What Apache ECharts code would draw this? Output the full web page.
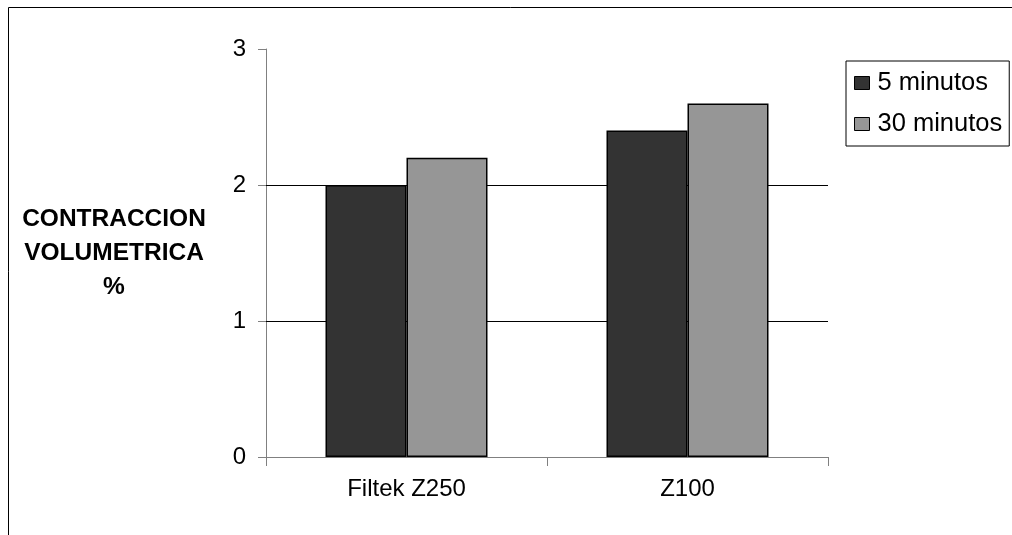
<!DOCTYPE html>
<html>
<head>
<meta charset="utf-8">
<script src="https://cdn.jsdelivr.net/npm/echarts@6/dist/echarts.min.js"></script>
<style>
html,body{margin:0;padding:0;background:#fff;}
#chart{width:1012px;height:535px;}
</style>
</head>
<body>
<div id="chart"></div>
<script>
var categories = ['Filtek Z250', 'Z100'];
var seriesNames = ['5 minutos', '30 minutos'];
var values5 = [2.0, 2.4];
var values30 = [2.2, 2.6];
var gridValues = [1, 2];
var yTitle = 'CONTRACCION\nVOLUMETRICA\n%';

var font = '"Liberation Sans", Arial, sans-serif';
var chart = echarts.init(document.getElementById('chart'), null, {renderer: 'canvas'});
chart.setOption({
  animation: false,
  backgroundColor: '#fff',
  graphic: [{
    type: 'rect', silent: true, z: 0,
    shape: {x: 8.5, y: 7.5, width: 1200, height: 700},
    style: {fill: 'none', stroke: '#000', lineWidth: 1}
  }],
  grid: {left: 266, right: 184, top: 49, bottom: 78, containLabel: false},
  legend: {
    orient: 'vertical', left: 846, top: 61,
    padding: [9, 7, 9, 8], itemGap: 15,
    borderColor: '#000', borderWidth: 1,
    itemWidth: 15, itemHeight: 13,
    icon: 'rect',
    itemStyle: {borderColor: '#000', borderWidth: 1},
    textStyle: {fontFamily: font, fontSize: 25.5, color: '#000', padding: [0, 0, 0, 3]},
    data: seriesNames
  },
  xAxis: {
    type: 'category', data: categories,
    axisLine: {show: true, lineStyle: {color: '#808080', width: 1}},
    axisTick: {show: true, length: 9, inside: false, lineStyle: {color: '#808080'}},
    axisLabel: {fontFamily: font, fontSize: 24, color: '#000', margin: 20},
    splitLine: {show: false}
  },
  yAxis: {
    type: 'value', min: 0, max: 3, interval: 1,
    name: yTitle, nameLocation: 'middle', nameRotate: 0, nameGap: 152,
    nameTextStyle: {fontFamily: font, fontSize: 24.5, fontWeight: 'bold', color: '#000', align: 'center', verticalAlign: 'middle', lineHeight: 34},
    axisLine: {show: true, lineStyle: {color: '#808080', width: 1}},
    axisTick: {show: true, length: 8, lineStyle: {color: '#808080'}},
    axisLabel: {fontFamily: font, fontSize: 24, color: '#000', margin: 20},
    splitLine: {show: false}
  },
  series: [{
    name: seriesNames[0], type: 'bar', data: values5,
    barWidth: 81, barGap: '0%',
    itemStyle: {color: '#333333', borderColor: '#000', borderWidth: 1.5},
    markLine: {
      silent: true, symbol: 'none', label: {show: false},
      lineStyle: {color: '#000', width: 1, type: 'solid'},
      data: gridValues.map(function (v) { return {yAxis: v}; }),
      z: 1
    },
    z: 3
  }, {
    name: seriesNames[1], type: 'bar', data: values30,
    barWidth: 81, barGap: '0%',
    itemStyle: {color: '#969696', borderColor: '#000', borderWidth: 1.5},
    z: 3
  }]
});
</script>
</body>
</html>
